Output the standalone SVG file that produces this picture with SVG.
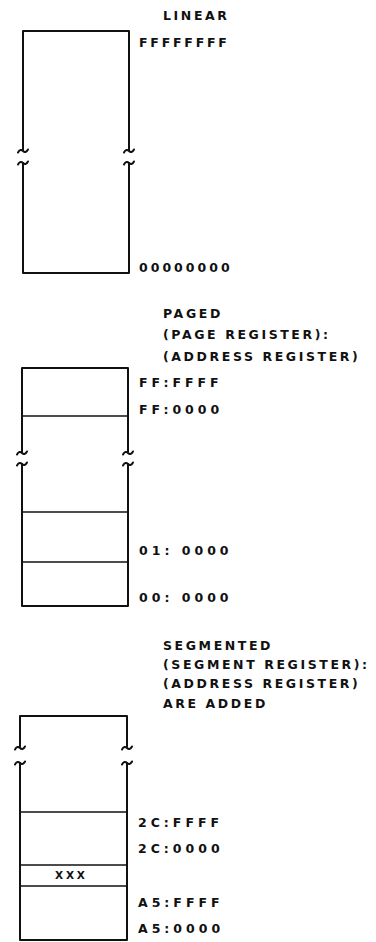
<svg xmlns="http://www.w3.org/2000/svg" width="376" height="942" viewBox="0 0 376 942">
<style>
  .bg { fill: #ffffff; }
  .wall { fill: none; stroke: #111; stroke-width: 2; stroke-linejoin: round; stroke-linecap: round; }
  .div { fill: none; stroke: #111; stroke-width: 1.6; }
  .tilde { fill: none; stroke: #111; stroke-width: 2; stroke-linecap: round; }
  text { font-family: "DejaVu Sans", "Liberation Sans", sans-serif; font-weight: bold; fill: #111; font-size: 12.5px; }
  .head { letter-spacing: 2.6px; }
  .lab { letter-spacing: 4px; }
  .hex8 { letter-spacing: 2.8px; }
  .zero8 { letter-spacing: 3px; }
  .xxx { font-size: 10.5px; letter-spacing: 2.8px; }
</style>
<defs>
  <path id="tl" class="tilde" d="M -5,1.5 C -3.5,-1.5 -1.5,-1.5 0,0 C 1.5,1.5 3.5,1.5 5,-1.5"/>
</defs>
<rect class="bg" x="0" y="0" width="376" height="942"/>

<g id="linear">
  <text class="head" x="163" y="20">LINEAR</text>
  <path class="wall" d="M 23,150 V 31 H 129 V 150"/>
  <path class="wall" d="M 23,163 V 273 H 129 V 163"/>
  <use href="#tl" x="23" y="151"/>
  <use href="#tl" x="129" y="151"/>
  <use href="#tl" x="23" y="163"/>
  <use href="#tl" x="129" y="163"/>
  <text class="hex8" x="139" y="47">FFFFFFFF</text>
  <text class="zero8" x="139" y="272">00000000</text>
</g>

<g id="paged">
  <text class="head" x="163" y="318">PAGED</text>
  <text class="head" x="163" y="339">(PAGE REGISTER):</text>
  <text class="head" x="163" y="361">(ADDRESS REGISTER)</text>
  <path class="wall" d="M 22,452 V 368 H 128 V 452"/>
  <path class="wall" d="M 22,464 V 606 H 128 V 464"/>
  <use href="#tl" x="22" y="453"/>
  <use href="#tl" x="128" y="453"/>
  <use href="#tl" x="22" y="464"/>
  <use href="#tl" x="128" y="464"/>
  <line class="div" x1="22" y1="416" x2="128" y2="416"/>
  <line class="div" x1="22" y1="512" x2="128" y2="512"/>
  <line class="div" x1="22" y1="562" x2="128" y2="562"/>
  <text class="lab" x="139" y="387">FF:FFFF</text>
  <text class="lab" x="139" y="414">FF:0000</text>
  <text class="lab" x="139" y="555">01: 0000</text>
  <text class="lab" x="139" y="602">00: 0000</text>
</g>

<g id="segmented">
  <text class="head" x="163" y="650">SEGMENTED</text>
  <text class="head" x="163" y="669">(SEGMENT REGISTER):</text>
  <text class="head" x="163" y="688">(ADDRESS REGISTER)</text>
  <text class="head" x="163" y="708">ARE ADDED</text>
  <path class="wall" d="M 20,747 V 716 H 127 V 747"/>
  <path class="wall" d="M 20,763 V 940 H 127 V 763"/>
  <use href="#tl" x="20" y="748"/>
  <use href="#tl" x="127" y="748"/>
  <use href="#tl" x="20" y="763"/>
  <use href="#tl" x="127" y="763"/>
  <line class="div" x1="20" y1="812" x2="127" y2="812"/>
  <line class="div" x1="20" y1="865" x2="127" y2="865"/>
  <line class="div" x1="20" y1="886" x2="127" y2="886"/>
  <text class="xxx" x="71.4" y="879" text-anchor="middle">XXX</text>
  <text class="lab" x="138" y="827">2C:FFFF</text>
  <text class="lab" x="138" y="853">2C:0000</text>
  <text class="lab" x="138" y="907">A5:FFFF</text>
  <text class="lab" x="138" y="933">A5:0000</text>
</g>

<g id="connectors"></g>
</svg>
